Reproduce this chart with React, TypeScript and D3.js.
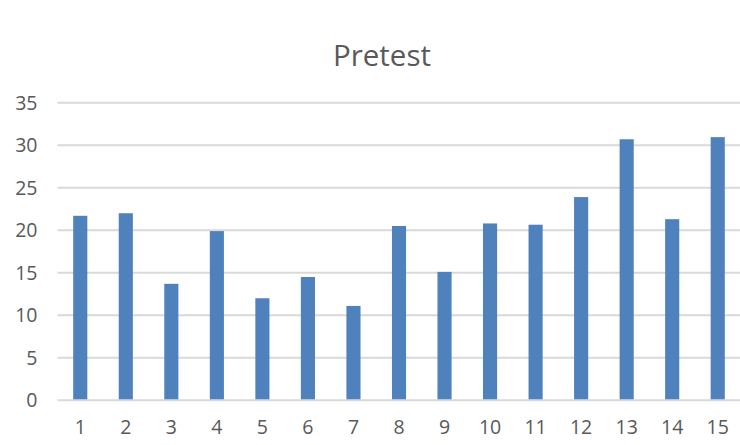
import React from "react";
import * as d3 from "d3";

const categories = ["1","2","3","4","5","6","7","8","9","10","11","12","13","14","15"];
const values = [21.7, 22.0, 13.7, 19.9, 12.0, 14.5, 11.1, 20.5, 15.1, 20.8, 20.65, 23.9, 30.7, 21.3, 30.95];
const yTicks = [0, 5, 10, 15, 20, 25, 30, 35];
const title = "Pretest";

const W = 740, H = 445;
const FONT = "'Open Sans', 'Noto Sans', sans-serif";

export default function App() {
  const x = d3.scaleBand<string>().domain(categories).range([57.5, 740.5]).paddingInner(0.69).paddingOuter(0.345);
  const y = d3.scaleLinear().domain([0, 35]).range([400.3, 102.7]);
  return (
    <svg width={W} height={H} style={{ position: "absolute", left: 0, top: 0, background: "#fff" }}>
      <text x={382} y={66} textAnchor="middle" fontFamily={FONT} fontSize={29.5} fill="#595959">{title}</text>
      {yTicks.map(t => (
        <g key={t}>
          <line x1={57.5} x2={740.5} y1={y(t)} y2={y(t)} stroke="#d9d9d9" strokeWidth={2} />
          <text x={37.5} y={y(t)} dy="0.36em" textAnchor="end" fontFamily={FONT} fontSize={19.5} fill="#595959">{t}</text>
        </g>
      ))}
      {categories.map((c, i) => (
        <rect key={c} x={x(c)} y={y(values[i])} width={x.bandwidth()} height={y(0) - y(values[i]) - 1} fill="#4f81bd" />
      ))}
      {categories.map(c => (
        <text key={c} x={(x(c) as number) + x.bandwidth() / 2} y={427} dy="0.36em" textAnchor="middle" fontFamily={FONT} fontSize={19.5} fill="#595959">{c}</text>
      ))}
    </svg>
  );
}
